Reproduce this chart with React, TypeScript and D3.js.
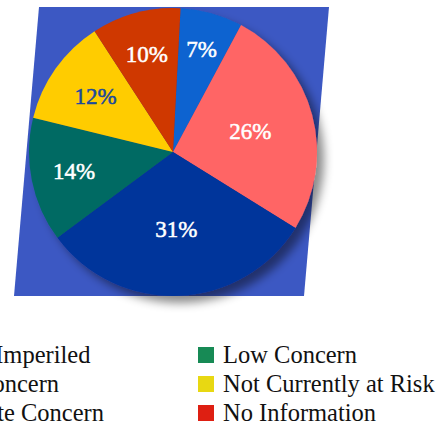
import * as d3 from "d3";
import React, { useEffect, useRef } from "react";

// conservation status shares, clockwise from the top
const categories = [
  "Highly Imperiled",
  "High Concern",
  "Moderate Concern",
  "Low Concern",
  "Not Currently at Risk",
  "No Information",
];
const shares = [7, 26, 31, 14, 12, 10];
const sliceColors = ["#0b64d0", "#ff6565", "#05349b", "#066b63", "#ffcc00", "#cf3704"];
const legendColors = ["#0b64d0", "#ff6565", "#05349b", "#178a55", "#e8d812", "#de1f12"];
const labelColors = ["#fff", "#fff", "#fff", "#fff", "#1b4a9c", "#fff"];
// label distance from the centre, per slice
const labelRadius = [106, 80, 78, 101, 95, 101];

const W = 441;
const H = 426;
const FONT = "'Liberation Serif', 'DejaVu Serif', serif";

const App: React.FC = () => {
  const ref = useRef<SVGSVGElement>(null);

  useEffect(() => {
    if (!ref.current) return;
    const svg = d3.select(ref.current);
    svg.selectAll("*").remove();

    const defs = svg.append("defs");
    const f = defs.append("filter").attr("id", "shadow")
      .attr("x", "-20%").attr("y", "-20%").attr("width", "140%").attr("height", "140%");
    f.append("feDropShadow")
      .attr("dx", 7).attr("dy", 7).attr("stdDeviation", 5)
      .attr("flood-color", "#000").attr("flood-opacity", 0.45);

    // skewed blue panel behind the pie
    svg.append("polygon")
      .attr("points", "39,7 329,7 304,296 14,296")
      .attr("fill", "#3c58c3");

    const cx = 173, cy = 152, r = 144;
    const start = (3 * Math.PI) / 180;
    const pie = d3.pie<number>().sort(null).value(d => d)
      .startAngle(start).endAngle(start + 2 * Math.PI);
    const arcs = pie(shares);
    const arc = d3.arc<d3.PieArcDatum<number>>().innerRadius(0).outerRadius(r);

    const g = svg.append("g").attr("transform", `translate(${cx},${cy})`);
    g.append("g").attr("filter", "url(#shadow)")
      .selectAll("path")
      .data(arcs)
      .join("path")
      .attr("d", arc)
      .attr("fill", (_, i) => sliceColors[i]);

    g.selectAll("text")
      .data(arcs)
      .join("text")
      .attr("transform", (d, i) => {
        const a = (d.startAngle + d.endAngle) / 2;
        const lr = labelRadius[i];
        return `translate(${Math.sin(a) * lr},${-Math.cos(a) * lr})`;
      })
      .attr("text-anchor", "middle")
      .attr("dy", "0.32em")
      .attr("font-family", FONT)
      .attr("font-size", 23)
      .attr("fill", (_, i) => labelColors[i])
      .attr("stroke", (_, i) => labelColors[i])
      .attr("stroke-width", 0.5)
      .text(d => `${d.data}%`);

    // legend: two columns of three
    const col = d3.scaleOrdinal<number, number>().domain([0, 1]).range([-104, 198]);
    const row = d3.scaleBand<number>().domain([0, 1, 2]).range([347, 434]).paddingInner(0);
    const items = svg.append("g").selectAll("g")
      .data(categories)
      .join("g")
      .attr("transform", (_, i) => `translate(${col(Math.floor(i / 3))},${row(i % 3)})`);
    items.append("rect")
      .attr("width", 16).attr("height", 16)
      .attr("fill", (_, i) => legendColors[i]);
    items.append("text")
      .attr("x", 25).attr("y", 16)
      .attr("font-family", FONT)
      .attr("font-size", 24.5)
      .attr("fill", "#111")
      .text(d => d);
  }, []);

  return (
    <svg
      ref={ref}
      width={W}
      height={H}
      style={{ position: "absolute", left: 0, top: 0, background: "#fff" }}
    />
  );
};

export default App;
